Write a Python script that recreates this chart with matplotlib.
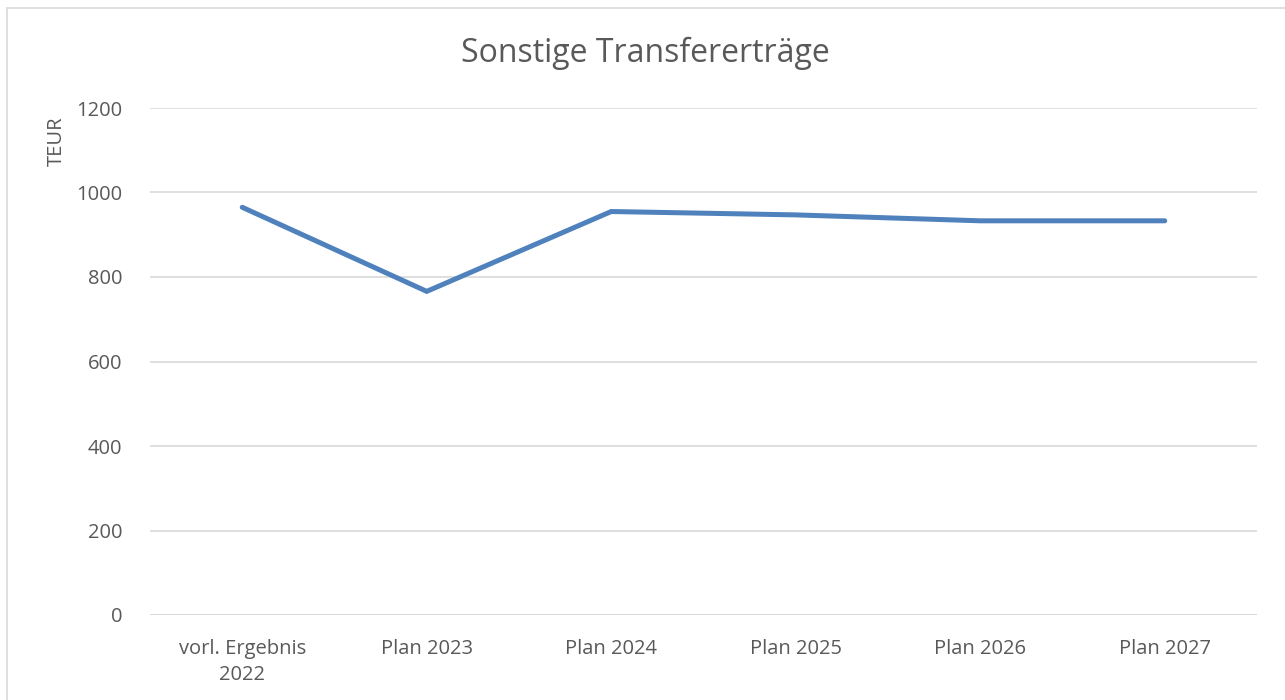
import matplotlib.pyplot as plt
from matplotlib.patches import Rectangle

categories = ['vorl. Ergebnis\n2022', 'Plan 2023', 'Plan 2024', 'Plan 2025', 'Plan 2026', 'Plan 2027']
values = [965, 766, 955, 947, 933, 933]
yticks = [0, 200, 400, 600, 800, 1000, 1200]

plt.rcParams['font.family'] = ['Open Sans', 'DejaVu Sans']
txt = '#595959'

fig = plt.figure(figsize=(12.85, 7), dpi=100)
fig.patches.append(Rectangle((7 / 1285, -0.1), 1.2, 1 - 8 / 700 + 0.1, transform=fig.transFigure,
                             fill=False, edgecolor='#D9D9D9', linewidth=1.2))
ax = fig.add_axes([150 / 1285, 85 / 700, 1107 / 1285, 507 / 700])

x = list(range(len(categories)))
ax.plot(x, values, color='#4F81BD', linewidth=3.6, solid_capstyle='round', solid_joinstyle='miter', zorder=3)

ax.set_xlim(-0.5, len(categories) - 0.5)
ax.set_ylim(0, 1200)
ax.set_yticks(yticks)
ax.set_xticks(x)
ax.set_xticklabels(categories, fontsize=14.5, color=txt, linespacing=1.45)
ax.set_yticklabels([str(v) for v in yticks], fontsize=14.5, color=txt)
ax.grid(axis='y', color='#D9D9D9', linewidth=1.2)
ax.tick_params(length=0, pad=17)
ax.tick_params(axis='y', pad=20)
for s in ax.spines.values():
    s.set_visible(False)
ax.axhline(0, color='#D9D9D9', linewidth=1.2, zorder=2)

ax.set_ylabel('TEUR', fontsize=14.5, color=txt)
ax.yaxis.set_label_coords(-0.075, 0.935)
fig.text(0.502, 0.924, 'Sonstige Transfererträge', ha='center', va='center', fontsize=23, color=txt)

fig.savefig('out.png', dpi=100)
